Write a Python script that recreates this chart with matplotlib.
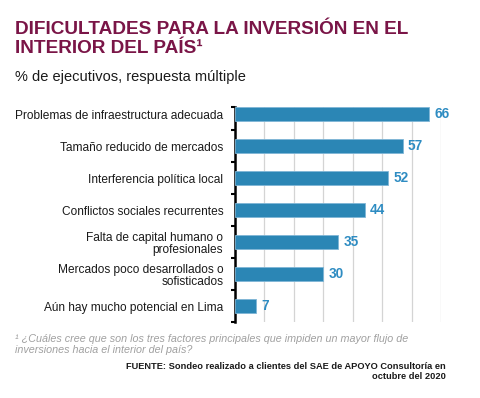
import numpy as np
import matplotlib.pyplot as plt

categories = [
    "Problemas de infraestructura adecuada",
    "Tamaño reducido de mercados",
    "Interferencia política local",
    "Conflictos sociales recurrentes",
    "Falta de capital humano o\nprofesionales",
    "Mercados poco desarrollados o\nsofisticados",
    "Aún hay mucho potencial en Lima",
]
values = [66, 57, 52, 44, 35, 30, 7]

plt.rcParams['font.family'] = ['Liberation Sans', 'DejaVu Sans']

BAR = "#2B86B5"
LABEL = "#2E8CC2"
TITLE = "#7A1547"

fig = plt.figure(figsize=(4.8, 3.98), dpi=100)
ax = fig.add_axes([0.4896, 1 - 322 / 398, 0.4292, 215 / 398])

y = np.arange(len(categories))
ax.barh(y, values, height=0.42, color=BAR, edgecolor="#7FB6D6", linewidth=0.6, zorder=3)
for yi, v in zip(y, values):
    ax.text(v + 1.8, yi, str(v), va="center", ha="left", color=LABEL,
            fontsize=9.8, fontweight="bold")

top = -0.22
ax.set_xlim(0, 70)
ax.set_ylim(len(categories) - 0.5, top)
ax.set_xticks(np.arange(0, 71, 10))
ax.xaxis.grid(True, color="#D4D4D4", linewidth=0.9, zorder=0)
ax.tick_params(axis="x", length=0, labelbottom=False)
ax.set_yticks(y)
ax.set_yticklabels(categories, fontsize=8.6, color="#1a1a1a", linespacing=1.05)
ax.tick_params(axis="y", which="major", length=0, pad=8.5)
ax.set_yticks([top] + list(np.arange(0.5, len(categories), 1)), minor=True)
ax.tick_params(axis="y", which="minor", length=3, width=1.5, color="black")
for s in ["top", "right", "bottom"]:
    ax.spines[s].set_visible(False)
ax.spines["left"].set_linewidth(1.8)
ax.spines["left"].set_color("black")

fig.text(15 / 480, 1 - 21 / 398, "DIFICULTADES PARA LA INVERSIÓN EN EL\nINTERIOR DEL PAÍS¹",
         ha="left", va="top", fontsize=13.65, fontweight="bold", color=TITLE, linespacing=1.12)
fig.text(15 / 480, 1 - 77 / 398, "% de ejecutivos, respuesta múltiple",
         ha="left", va="center", fontsize=10.5, color="#1a1a1a")
fig.text(15 / 480, 1 - 334 / 398,
         "¹ ¿Cuáles cree que son los tres factores principales que impiden un mayor flujo de\ninversiones hacia el interior del país?",
         ha="left", va="top", fontsize=7.75, style="italic", color="#A0A0A0", linespacing=1.15)
fig.text(446 / 480, 1 - 362 / 398,
         "FUENTE: Sondeo realizado a clientes del SAE de APOYO Consultoría en\noctubre del 2020",
         ha="right", va="top", fontsize=6.7, fontweight="bold", color="#1a1a1a", linespacing=1.2)

fig.savefig("out.png", dpi=100)
